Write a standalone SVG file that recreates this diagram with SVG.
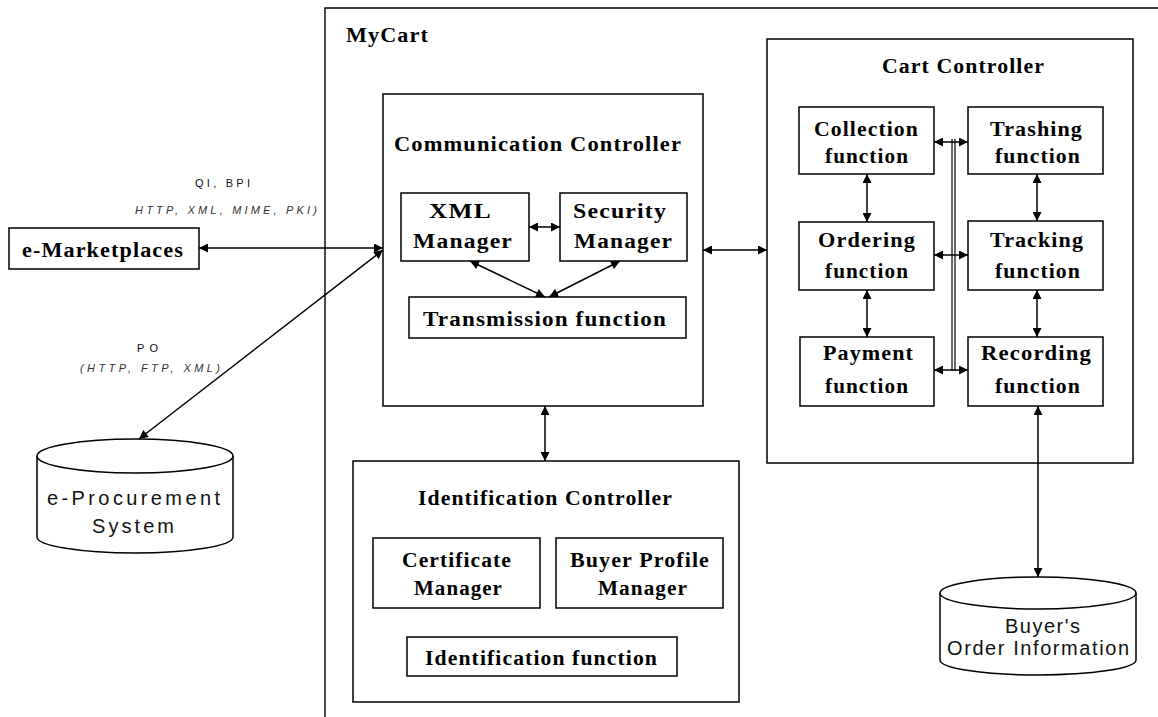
<svg xmlns="http://www.w3.org/2000/svg" width="1158" height="717" viewBox="0 0 1158 717">
  <defs>
    <marker id="ah" viewBox="0 0 10 10" refX="10" refY="5" markerWidth="11" markerHeight="9" markerUnits="userSpaceOnUse" orient="auto-start-reverse">
      <path d="M0,0 L10,5 L0,10 z" fill="#000"/>
    </marker>
    <style>
      .box { fill: #fff; stroke: #000; stroke-width: 1.5; }
      .frame { fill: none; stroke: #000; stroke-width: 1.4; }
      .lnk { fill: none; stroke: #000; stroke-width: 1.5; marker-start: url(#ah); marker-end: url(#ah); }
      .plain { fill: none; stroke: #000; stroke-width: 1.2; }
      .b { font-family: "Liberation Serif", "Times New Roman", serif; font-weight: bold; font-size: 20px; fill: #000; text-anchor: middle; letter-spacing: 1px; }
      .s { font-family: "Liberation Sans", Arial, sans-serif; font-size: 20px; fill: #111; text-anchor: middle; }
      .lbl { font-family: "Liberation Sans", Arial, sans-serif; font-size: 11px; fill: #111; }
      .it { font-style: italic; fill: #333; }
    </style>
  </defs>

  <rect width="1158" height="717" fill="#fff"/>

  <!-- MyCart system boundary -->
  <g id="mycart">
    <path class="frame" d="M1158,8 L325,8 L325,717"/>
    <text class="b" x="346" y="42" font-size="22" textLength="83" lengthAdjust="spacingAndGlyphs" style="text-anchor:start">MyCart</text>
  </g>

  <!-- external systems -->
  <g id="e-marketplaces">
    <rect class="box" x="9" y="228" width="190" height="41"/>
    <text class="b" x="103" y="257" font-size="22" textLength="162" lengthAdjust="spacingAndGlyphs">e-Marketplaces</text>
  </g>

  <g id="e-procurement">
    <path class="box" d="M37,456 L37,537 A98,16 0 0 0 233,537 L233,456"/>
    <ellipse class="box" cx="135" cy="456" rx="98" ry="17"/>
    <text class="s" x="133.5" y="505" textLength="173" lengthAdjust="spacing">e-Procurement</text>
    <text class="s" x="133" y="533" textLength="82" lengthAdjust="spacing">System</text>
  </g>

  <g id="buyers-order-information">
    <path class="box" d="M940,593 L940,660 A98,15 0 0 0 1136,660 L1136,593"/>
    <ellipse class="box" cx="1038" cy="593" rx="98" ry="16"/>
    <text class="s" x="1042.5" y="633" font-size="19" textLength="75" lengthAdjust="spacing">Buyer's</text>
    <text class="s" x="1038" y="655" font-size="19" textLength="182" lengthAdjust="spacing">Order Information</text>
  </g>

  <!-- Communication Controller -->
  <g id="communication-controller">
    <rect class="box" x="383" y="94" width="320" height="312"/>
    <text class="b" x="538" y="151" font-size="19" textLength="288" lengthAdjust="spacingAndGlyphs">Communication Controller</text>
  </g>
  <g id="xml-manager">
    <rect class="box" x="401" y="193" width="128" height="68"/>
    <text class="b" x="460.5" y="218" font-size="21" textLength="63" lengthAdjust="spacingAndGlyphs">XML</text>
    <text class="b" x="463" y="248" font-size="21" textLength="100" lengthAdjust="spacingAndGlyphs">Manager</text>
  </g>
  <g id="security-manager">
    <rect class="box" x="560" y="193" width="127" height="68"/>
    <text class="b" x="620" y="218" font-size="21" textLength="94" lengthAdjust="spacingAndGlyphs">Security</text>
    <text class="b" x="623.5" y="248" font-size="21" textLength="99" lengthAdjust="spacingAndGlyphs">Manager</text>
  </g>
  <g id="transmission-function">
    <rect class="box" x="409" y="297" width="277" height="41"/>
    <text class="b" x="545" y="326" textLength="244" lengthAdjust="spacingAndGlyphs">Transmission function</text>
  </g>

  <!-- Cart Controller -->
  <g id="cart-controller">
    <rect class="box" x="767" y="39" width="366" height="424"/>
    <text class="b" x="963.5" y="73" font-size="21" textLength="163" lengthAdjust="spacingAndGlyphs">Cart Controller</text>
  </g>
  <g id="collection-function">
    <rect class="box" x="799" y="107" width="135" height="67"/>
    <text class="b" x="866.5" y="136" textLength="105" lengthAdjust="spacingAndGlyphs">Collection</text>
    <text class="b" x="867" y="163" textLength="84" lengthAdjust="spacingAndGlyphs">function</text>
  </g>
  <g id="trashing-function">
    <rect class="box" x="968" y="107" width="135" height="67"/>
    <text class="b" x="1036.5" y="136" textLength="93" lengthAdjust="spacingAndGlyphs">Trashing</text>
    <text class="b" x="1038" y="163" textLength="86" lengthAdjust="spacingAndGlyphs">function</text>
  </g>
  <g id="ordering-function">
    <rect class="box" x="799" y="222" width="135" height="68"/>
    <text class="b" x="867" y="247" textLength="98" lengthAdjust="spacingAndGlyphs">Ordering</text>
    <text class="b" x="867" y="278" textLength="84" lengthAdjust="spacingAndGlyphs">function</text>
  </g>
  <g id="tracking-function">
    <rect class="box" x="968" y="221" width="135" height="69"/>
    <text class="b" x="1037" y="247" textLength="94" lengthAdjust="spacingAndGlyphs">Tracking</text>
    <text class="b" x="1038" y="278" textLength="86" lengthAdjust="spacingAndGlyphs">function</text>
  </g>
  <g id="payment-function">
    <rect class="box" x="800" y="337" width="134" height="69"/>
    <text class="b" x="868.5" y="360" textLength="91" lengthAdjust="spacingAndGlyphs">Payment</text>
    <text class="b" x="867" y="393" textLength="84" lengthAdjust="spacingAndGlyphs">function</text>
  </g>
  <g id="recording-function">
    <rect class="box" x="968" y="337" width="135" height="69"/>
    <text class="b" x="1036.5" y="360" textLength="111" lengthAdjust="spacingAndGlyphs">Recording</text>
    <text class="b" x="1038" y="393" textLength="86" lengthAdjust="spacingAndGlyphs">function</text>
  </g>

  <!-- Identification Controller -->
  <g id="identification-controller">
    <rect class="box" x="353" y="461" width="386" height="241"/>
    <text class="b" x="545.5" y="505" font-size="21" textLength="255" lengthAdjust="spacingAndGlyphs">Identification Controller</text>
  </g>
  <g id="certificate-manager">
    <rect class="box" x="373" y="538" width="167" height="70"/>
    <text class="b" x="457" y="567" textLength="110" lengthAdjust="spacingAndGlyphs">Certificate</text>
    <text class="b" x="458.5" y="595" textLength="89" lengthAdjust="spacingAndGlyphs">Manager</text>
  </g>
  <g id="buyer-profile-manager">
    <rect class="box" x="556" y="538" width="167" height="70"/>
    <text class="b" x="640" y="567" textLength="140" lengthAdjust="spacingAndGlyphs">Buyer Profile</text>
    <text class="b" x="643" y="595" textLength="90" lengthAdjust="spacingAndGlyphs">Manager</text>
  </g>
  <g id="identification-function">
    <rect class="box" x="407" y="637" width="270" height="39"/>
    <text class="b" x="541.5" y="665" textLength="233" lengthAdjust="spacingAndGlyphs">Identification function</text>
  </g>

  <!-- connectors -->
  <g id="connectors">
    <line class="lnk" x1="199" y1="248" x2="383" y2="248"/>
    <line class="lnk" x1="139" y1="439" x2="383" y2="250"/>
    <line class="lnk" x1="529" y1="227" x2="560" y2="227"/>
    <line class="lnk" x1="470" y1="261" x2="545" y2="297"/>
    <line class="lnk" x1="620" y1="261" x2="549" y2="297"/>
    <line class="lnk" x1="703" y1="250" x2="767" y2="250"/>
    <line class="lnk" x1="545" y1="406" x2="545" y2="461"/>
    <!-- cart controller bus -->
    <line class="plain" x1="952" y1="139" x2="952" y2="371"/>
    <line class="plain" x1="955" y1="139" x2="955" y2="371"/>
    <line class="lnk" x1="934" y1="142" x2="968" y2="142"/>
    <line class="lnk" x1="934" y1="255" x2="968" y2="255"/>
    <line class="lnk" x1="934" y1="370" x2="968" y2="370"/>
    <line class="lnk" x1="867" y1="174" x2="867" y2="222"/>
    <line class="lnk" x1="867" y1="290" x2="867" y2="337"/>
    <line class="lnk" x1="1037" y1="174" x2="1037" y2="221"/>
    <line class="lnk" x1="1037" y1="290" x2="1037" y2="337"/>
    <line class="lnk" x1="1038" y1="406" x2="1038" y2="577"/>
  </g>

  <!-- protocol labels -->
  <g id="labels">
    <text class="lbl" x="195" y="187" textLength="55" lengthAdjust="spacing">QI, BPI</text>
    <text class="lbl it" x="135" y="214" textLength="182" lengthAdjust="spacing">HTTP, XML, MIME, PKI)</text>
    <text class="lbl" x="137" y="352" textLength="21" lengthAdjust="spacing">PO</text>
    <text class="lbl it" x="80" y="372" textLength="140" lengthAdjust="spacing">(HTTP, FTP, XML)</text>
  </g>
</svg>
